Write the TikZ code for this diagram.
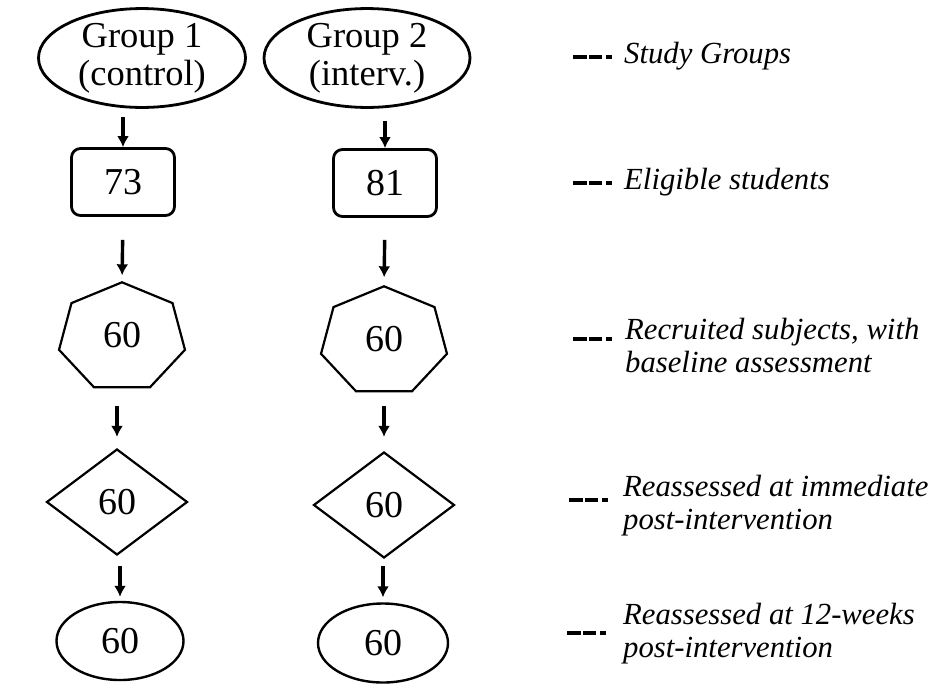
\documentclass[tikz,border=0pt]{standalone}
\usepackage{fontspec}
\setmainfont{Liberation Serif}
\usetikzlibrary{shapes.geometric,arrows.meta}

\tikzset{
  grp/.style={ellipse, draw, line width=2.8pt, inner sep=0pt, align=center,
              font=\fontsize{36.5}{38}\selectfont},
  elig/.style={rectangle, rounded corners=9pt, draw, line width=2.8pt,
               minimum width=103, minimum height=67, inner sep=0pt,
               font=\fontsize{38}{40}\selectfont},
  hept/.style={rectangle, minimum width=126, minimum height=105, inner sep=0pt,
               font=\fontsize{38}{40}\selectfont},
  poly/.style={line width=2.2pt, line join=miter},
  reimm/.style={diamond, draw, line width=2.2pt, minimum width=141, minimum height=106,
                inner sep=0pt, font=\fontsize{38}{40}\selectfont},
  reweek/.style={ellipse, draw, line width=2.4pt, inner sep=0pt,
                 font=\fontsize{38}{40}\selectfont},
  arr/.style={line width=3.4pt, -{Latex[length=11pt,width=12pt]}},
  legdash/.style={line width=4pt, dash pattern=on 14pt off 2pt on 13pt off 4pt on 6pt off 20pt},
  lbl/.style={anchor=west, inner sep=0pt, align=left,
              font=\fontsize{30.7}{33}\selectfont\itshape}
}

\begin{document}
\begin{tikzpicture}[x=1pt,y=-1pt]
  \useasboundingbox (0,0) rectangle (936,683);

  % study groups
  \node (g1) [grp, minimum width=207, minimum height=98] at (142,58) {Group 1\\(control)};
  \node (g2) [grp, minimum width=206, minimum height=92] at (367,58) {Group 2\\(interv.)};

  % eligible students
  \node (b1) [elig] at (123,182) {73};
  \node (b2) [elig] at (385,183) {81};

  % recruited subjects
  \node (h1) [hept] at (122,335) {60};
  \node (h2) [hept] at (384,339) {60};
  \foreach \h in {h1,h2}
    \draw [poly] (\h.north) ++(0,55.2) +(270:64.6 and 55.2)
      \foreach \k in {1,...,6} { -- +(270+\k*360/7:64.6 and 55.2) } -- cycle;

  % reassessed
  \node (d1) [reimm] at (117,502) {60};
  \node (d2) [reimm] at (384,505) {60};
  \node (e1) [reweek, minimum width=127, minimum height=78] at (120,641) {60};
  \node (e2) [reweek, minimum width=130, minimum height=79] at (383,643) {60};

  % arrows
  \draw [arr, shorten <=8pt]                  (g1.south -| b1.north) -- (b1.north);
  \draw [arr, shorten <=12pt]                 (g2.south -| b2.north) -- (b2.north);
  \draw [arr, shorten <=23pt, shorten >=7pt]  (b1.south) -- (h1.north);
  \draw [arr, shorten <=22pt, shorten >=9pt]  (b2.south) -- (h2.north);
  \draw [arr, shorten <=18pt, shorten >=11pt] (h1.south -| d1.north) -- (d1.north);
  \draw [arr, shorten <=14pt, shorten >=14pt] (h2.south -| d2.north) -- (d2.north);
  \draw [arr, shorten <=10pt, shorten >=4pt]  (d1.south -| e1.north) -- (e1.north);
  \draw [arr, shorten <=7pt, shorten >=5pt]   (d2.south -| e2.north) -- (e2.north);

  % legend
  \coordinate (m1) at (573,56.5);
  \coordinate (m2) at (573,182.5);
  \coordinate (m3) at (573,339);
  \coordinate (m4) at (569,500);
  \coordinate (m5) at (567,633);
  \foreach \i in {1,...,5}
    \draw [legdash] (m\i) -- ++(39,0);

  \node (l1) [lbl] at (624,56)  {Study Groups};
  \node (l2) [lbl] at (624,182) {Eligible students};
  \node (l3) [lbl] at (625,345) {Recruited subjects, with\\baseline assessment};
  \node (l4) [lbl] at (623,506) {Reassessed at immediate\\post-intervention};
  \node (l5) [lbl] at (623,634) {Reassessed at 12-weeks\\post-intervention};
\end{tikzpicture}
\end{document}
